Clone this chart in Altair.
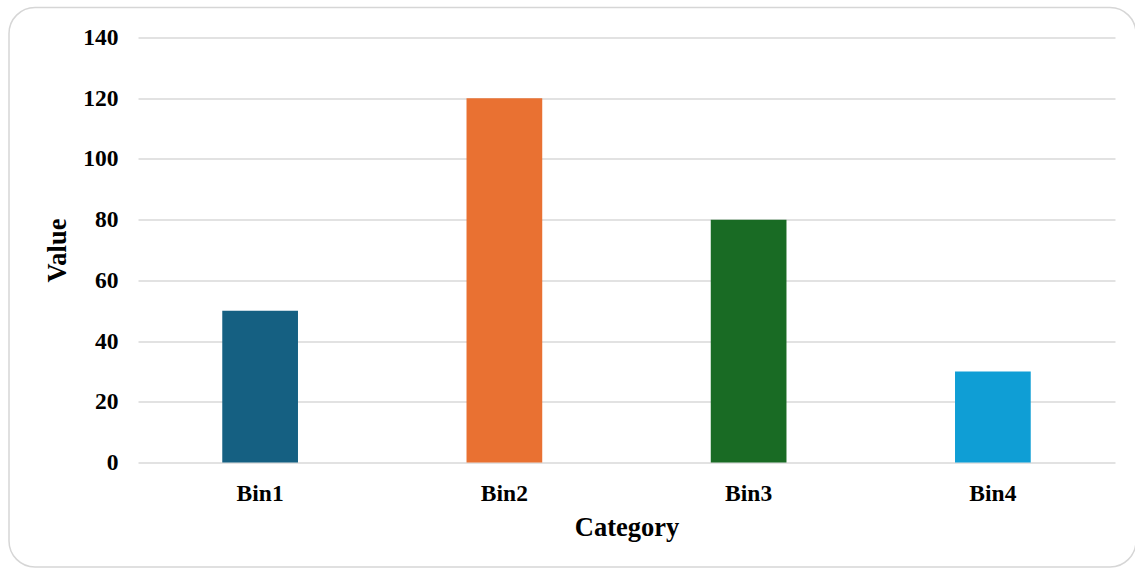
import altair as alt
import pandas as pd

# Chart data
categories = ["Bin1", "Bin2", "Bin3", "Bin4"]
values = [50, 120, 80, 30]
bar_colors = ["#156082", "#E97132", "#196B24", "#0F9ED5"]
y_ticks = [0, 20, 40, 60, 80, 100, 120, 140]

df = pd.DataFrame({"Category": categories, "Value": values})

FONT = "Liberation Serif"
PLOT_W, PLOT_H = 977, 425
LEFT, TOP = 138, 37.5

bars = alt.Chart(df).mark_bar().encode(
    x=alt.X(
        "Category:N",
        sort=categories,
        scale=alt.Scale(paddingInner=0.69, paddingOuter=0.345),
        axis=alt.Axis(
            title="Category",
            labelAngle=0,
            labelFont=FONT,
            labelFontSize=23.5,
            labelFontWeight="bold",
            labelColor="#000000",
            labelPadding=19,
            ticks=False,
            tickSize=0,
            domain=False,
            grid=False,
            titleFont=FONT,
            titleFontSize=26.5,
            titleFontWeight="bold",
            titleColor="#000000",
            titleX=PLOT_W / 2,
            titleY=72.5,
            titleAlign="center",
            titleBaseline="alphabetic",
        ),
    ),
    y=alt.Y(
        "Value:Q",
        scale=alt.Scale(domain=[0, 140], nice=False),
        axis=alt.Axis(
            title="Value",
            values=y_ticks,
            labelFont=FONT,
            labelFontSize=23.5,
            labelFontWeight="bold",
            labelColor="#000000",
            labelPadding=20,
            ticks=False,
            tickSize=0,
            domain=False,
            grid=True,
            gridColor="#d9d9d9",
            gridWidth=1.5,
            titleFont=FONT,
            titleFontSize=26.5,
            titleFontWeight="bold",
            titleColor="#000000",
            titleAngle=-90,
            titleX=-80.5,
            titleY=212.5,
            titleAlign="center",
            titleBaseline="middle",
        ),
    ),
    color=alt.Color(
        "Category:N",
        scale=alt.Scale(domain=categories, range=bar_colors),
        legend=None,
    ),
)

# Rounded outer frame around the whole chart
frame = alt.Chart(pd.DataFrame({"k": [0]})).mark_rect(
    fill="transparent",
    stroke="#d6d6d6",
    strokeWidth=1.5,
    cornerRadius=26,
).encode(
    x=alt.value(9 - LEFT),
    x2=alt.value(1136 - LEFT),
    y=alt.value(7.5 - TOP),
    y2=alt.value(567 - TOP),
)

chart = alt.layer(frame, bars).properties(
    width=PLOT_W,
    height=PLOT_H,
    autosize=alt.AutoSizeParams(type="none"),
    padding={"left": LEFT, "top": TOP, "right": 1135 - LEFT - PLOT_W, "bottom": 571 - TOP - PLOT_H},
    background="#ffffff",
).configure_view(stroke=None)

chart.save("out.html", embed_options={"renderer": "svg", "actions": False})
